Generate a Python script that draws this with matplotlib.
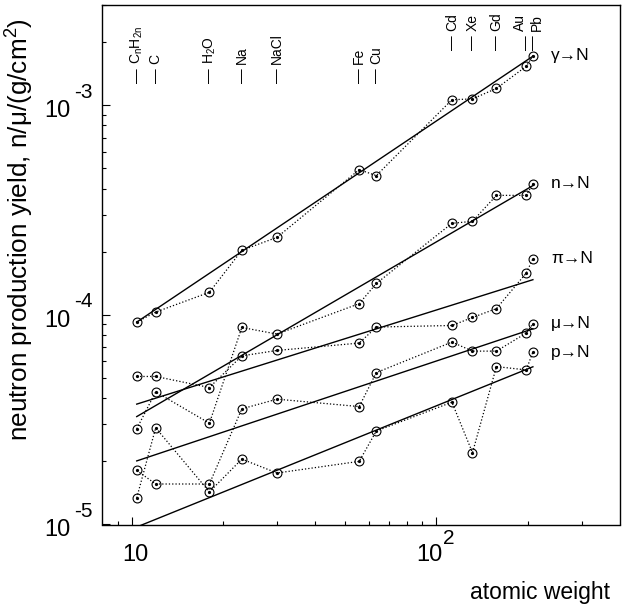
import matplotlib
matplotlib.use("Agg")
import matplotlib.pyplot as plt
from matplotlib.ticker import FixedLocator, NullFormatter
from matplotlib.transforms import blended_transform_factory, offset_copy

plt.rcParams['font.family'] = ['Liberation Sans', 'DejaVu Sans']
plt.rcParams['mathtext.fontset'] = 'custom'
plt.rcParams['mathtext.rm'] = 'Liberation Sans'
plt.rcParams['mathtext.it'] = 'Liberation Sans:italic'
plt.rcParams['mathtext.sf'] = 'Liberation Sans'

# targets and their atomic weight
targets = [r'C$_\mathrm{n}$H$_\mathrm{2n}$', 'C', r'H$_\mathrm{2}$O', 'Na', 'NaCl', 'Fe', 'Cu',
           'Cd', 'Xe', 'Gd', 'Au', 'Pb']
weight = [10.4, 12.0, 18.0, 23.0, 30.0, 55.8, 63.5, 112.4, 131.3, 157.3, 197.0, 207.2]

# neutron yield, n/mu/(g/cm2), per projectile
gamma = [9.23e-5, 1.03e-4, 1.28e-4, 2.03e-4, 2.34e-4, 4.92e-4, 4.61e-4,
         1.06e-3, 1.07e-3, 1.20e-3, 1.53e-3, 1.72e-3]
neutron = [2.86e-5, 4.29e-5, 3.04e-5, 8.70e-5, 8.09e-5, 1.13e-4, 1.41e-4,
           2.73e-4, 2.79e-4, 3.71e-4, 3.71e-4, 4.22e-4]
pion = [5.08e-5, 5.08e-5, 4.50e-5, 6.37e-5, 6.76e-5, 7.33e-5, 8.74e-5,
        8.89e-5, 9.71e-5, 1.07e-4, 1.58e-4, 1.85e-4]
muon = [1.81e-5, 1.56e-5, 1.56e-5, 3.56e-5, 3.96e-5, 3.65e-5, 5.30e-5,
        7.41e-5, 6.71e-5, 6.71e-5, 8.18e-5, 9.06e-5]
proton = [1.34e-5, 2.89e-5, 1.43e-5, 2.05e-5, 1.76e-5, 2.00e-5, 2.79e-5,
          3.83e-5, 2.20e-5, 5.66e-5, 5.46e-5, 6.64e-5]

# power law fits, value at both ends
fit_x = [10.4, 207.2]
fit_gamma = [9.23e-5, 1.71e-3]
fit_neutron = [3.27e-5, 4.13e-4]
fit_pion = [3.75e-5, 1.47e-4]
fit_muon = [2.01e-5, 8.57e-5]
fit_proton = [9.73e-6, 5.65e-5]

series = [('γ→N', gamma, fit_gamma), ('n→N', neutron, fit_neutron),
          ('π→N', pion, fit_pion), ('μ→N', muon, fit_muon), ('p→N', proton, fit_proton)]

W, H = 624, 606
fig = plt.figure(figsize=(W / 100, H / 100), dpi=100)
ax = fig.add_axes([102 / W, 1 - 524.5 / H, 518 / W, 519.5 / H])
ax.set_xscale('log')
ax.set_yscale('log')
ax.set_xlim(8, 400)
ax.set_ylim(1e-5, 3e-3)

for name, vals, fit in series:
    ax.plot(weight, vals, ls=':', lw=0.9, color='black', marker='o', ms=6.4,
            mfc='none', mec='black', mew=0.8)
    ax.plot(weight, vals, ls='none', marker='o', ms=1.3, color='black')
    ax.plot(fit_x, fit, ls='-', lw=1.0, color='black')
    ax.text(238, vals[-1], name, fontsize=12.5, va='center', ha='left')

# target labels at the top: a dash at the weight, the name above it
for i, (t, a) in enumerate(zip(targets, weight)):
    ylab = 1.28e-3 if i < 7 else 1.84e-3
    dx = {'Au': -6, 'Pb': 4}.get(t, 0)
    ax.text(a, ylab, '—', rotation=90, rotation_mode='anchor',
            ha='left', va='center', fontsize=10.5)
    ax.text(a, ylab, t, rotation=90, rotation_mode='anchor', ha='left', va='center',
            fontsize=10, transform=offset_copy(ax.transData, fig=fig, x=dx, y=19, units='dots'))

# ROOT like ticks
ax.tick_params(which='both', direction='in', top=False, right=False,
               labelleft=False, labelbottom=False, width=0.8)
ax.tick_params(which='major', length=6)
ax.tick_params(which='minor', length=3)
ax.xaxis.set_major_locator(FixedLocator([10, 100]))
ax.xaxis.set_minor_locator(FixedLocator([9, 20, 30, 40, 50, 60, 70, 80, 90, 200, 300]))
ax.yaxis.set_major_locator(FixedLocator([1e-5, 1e-4, 1e-3]))
yminor = [m * 10.0 ** e for e in (-5, -4, -3) for m in range(2, 10)]
ax.yaxis.set_minor_locator(FixedLocator(yminor))
ax.xaxis.set_minor_formatter(NullFormatter())
ax.yaxis.set_minor_formatter(NullFormatter())
for s in ax.spines.values():
    s.set_linewidth(1.0)

# tick labels written by hand (10 and exponent)
ty = blended_transform_factory(fig.transFigure, ax.transData)
for e in (-3, -4, -5):
    ax.text(70 / W, 10.0 ** e, '10', transform=offset_copy(ty, fig=fig, y=-6, units='dots'),
            ha='right', va='center', fontsize=17)
    ax.text(74 / W, 10.0 ** e, str(e), transform=offset_copy(ty, fig=fig, y=13, units='dots'),
            ha='left', va='center', fontsize=15)
tx = blended_transform_factory(ax.transData, fig.transFigure)
ax.text(10, 1 - 555 / H, '10', transform=offset_copy(tx, fig=fig, x=4, units='dots'),
        ha='center', va='center', fontsize=17)
ax.text(100, 1 - 555 / H, '10', transform=offset_copy(tx, fig=fig, x=-7, units='dots'),
        ha='center', va='center', fontsize=17)
ax.text(100, 1 - 538 / H, '2', transform=offset_copy(tx, fig=fig, x=12, units='dots'),
        ha='center', va='center', fontsize=15)

fig.text(610 / W, 1 - 592 / H, 'atomic weight', ha='right', va='center', fontsize=16.5)
fig.text(20 / W, 1 - 18 / H, r'neutron production yield, n/μ/(g/cm$^\mathrm{2}$)',
         rotation=90, ha='center', va='top', fontsize=18.8)

fig.savefig('out.png', dpi=100)
